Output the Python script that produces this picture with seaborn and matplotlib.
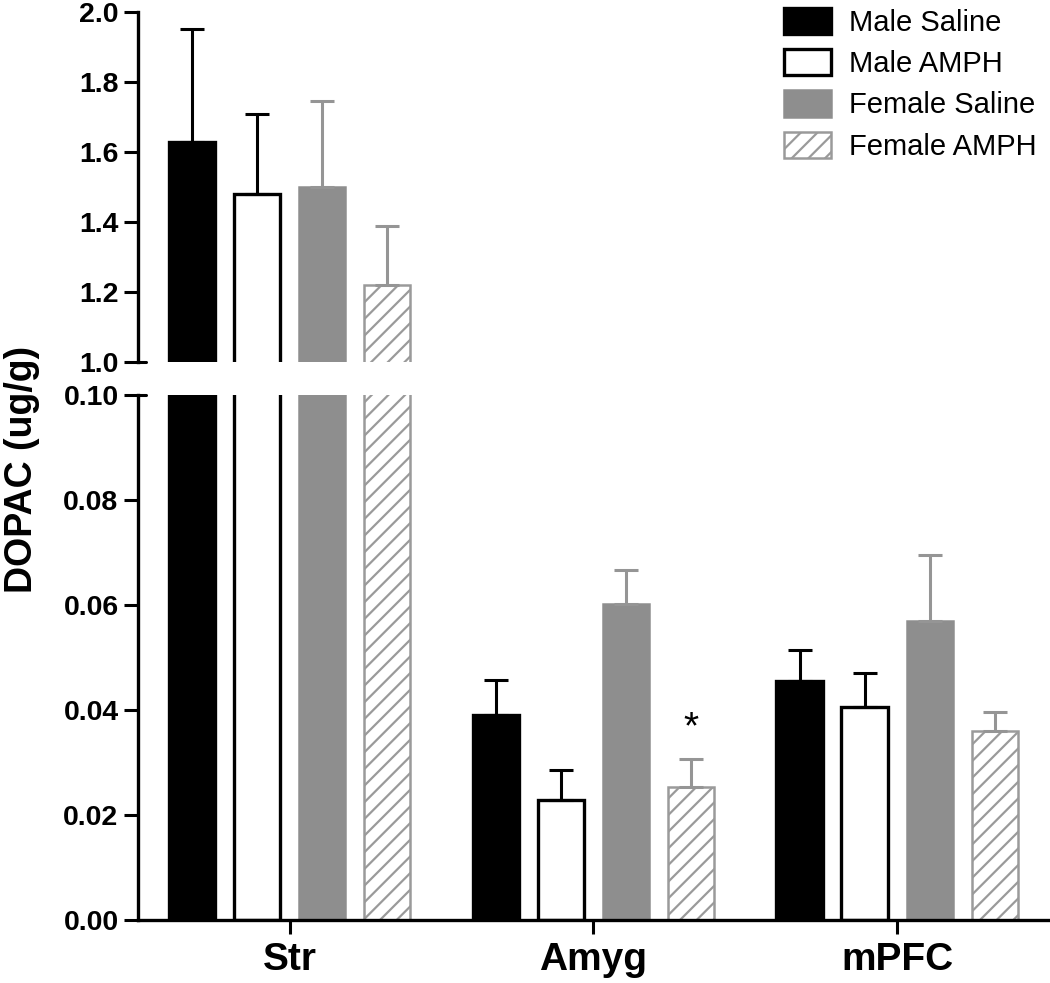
import numpy as np
import pandas as pd
import matplotlib
matplotlib.use('Agg')
import matplotlib.pyplot as plt
import seaborn as sns
from matplotlib.patches import Patch

# data
regions = ['Str', 'Amyg', 'mPFC']
groups = ['Male Saline', 'Male AMPH', 'Female Saline', 'Female AMPH']
means = {
    'Male Saline':   [1.63, 0.0390, 0.0455],
    'Male AMPH':     [1.48, 0.0229, 0.0406],
    'Female Saline': [1.50, 0.0602, 0.0570],
    'Female AMPH':   [1.22, 0.0253, 0.0360],
}
sems = {
    'Male Saline':   [0.32, 0.0068, 0.0059],
    'Male AMPH':     [0.23, 0.0057, 0.0064],
    'Female Saline': [0.245, 0.0065, 0.0125],
    'Female AMPH':   [0.17, 0.0054, 0.0036],
}
star_region = 'Amyg'
star_group = 'Female AMPH'
star_y = 0.0366

faces = ['black', 'white', '#8e8e8e', 'white']
edges = ['black', 'black', '#8e8e8e', '#9a9a9a']
err_cols = ['black', 'black', '#959595', '#959595']
hatches = [None, None, None, '//']

rows = []
for g in groups:
    for r, m in zip(regions, means[g]):
        rows.append({'region': r, 'group': g, 'value': m})
df = pd.DataFrame(rows)

sns.set_style('ticks')
plt.rcParams['font.family'] = ['Liberation Sans', 'DejaVu Sans']
plt.rcParams['hatch.linewidth'] = 1.6
plt.rcParams['axes.linewidth'] = 2.4
for k in ['text.color', 'axes.labelcolor', 'xtick.color', 'ytick.color', 'axes.edgecolor']:
    plt.rcParams[k] = 'black'

fig = plt.figure(figsize=(10.5, 9.83), dpi=100)
ax_top = fig.add_axes([0.1314, 0.6317, 0.8676, 0.3561])
ax_bot = fig.add_axes([0.1314, 0.0641, 0.8676, 0.5340])

for ax in (ax_top, ax_bot):
    sns.barplot(data=df, x='region', y='value', hue='group', order=regions,
                hue_order=groups, errorbar=None, width=0.857, gap=0.29,
                legend=False, ax=ax)
    for i, (cont, g) in enumerate(zip(ax.containers, groups)):
        xs = []
        for bar in cont:
            bar.set_facecolor(faces[i])
            bar.set_edgecolor(edges[i])
            bar.set_linewidth(2.4 if i < 2 else 1.8)
            if hatches[i]:
                bar.set_hatch(hatches[i])
            xs.append(bar.get_x() + bar.get_width() / 2)
        ax.errorbar(xs, means[g], yerr=[np.zeros(len(xs)), sems[g]], fmt='none',
                    ecolor=err_cols[i], elinewidth=2.2, capsize=8.5, capthick=2.2,
                    zorder=1)
    ax.set_xlim(-0.5, 2.5)
    ax.set_xlabel('')
    ax.set_ylabel('')
    for s in ['top', 'right']:
        ax.spines[s].set_visible(False)
    ax.tick_params(axis='both', length=10, width=2.2, pad=4, labelsize=20)

# top panel
ax_top.set_ylim(1.0, 2.0)
ax_top.set_yticks(np.arange(1.0, 2.01, 0.2))
ax_top.set_yticklabels([f'{v:.1f}' for v in np.arange(1.0, 2.01, 0.2)],
                       fontweight='bold', fontsize=20.5)
ax_top.spines['bottom'].set_visible(False)
ax_top.tick_params(axis='x', bottom=False, labelbottom=False)
ax_top.plot([0, 0.009], [0, 0], transform=ax_top.transAxes, color='black',
            lw=2.2, clip_on=False)

# bottom panel
yt = np.arange(0, 0.101, 0.02)
ax_bot.set_ylim(0, 0.10)
ax_bot.set_yticks(yt)
ax_bot.set_yticklabels([f'{v:.2f}' for v in yt], fontweight='bold', fontsize=20.5)
ax_bot.set_xticks(range(len(regions)))
ax_bot.set_xticklabels(regions, fontweight='bold', fontsize=28)
ax_bot.tick_params(axis='x', pad=6)
ax_bot.plot([0, 0.009], [1, 1], transform=ax_bot.transAxes, color='black',
            lw=2.2, clip_on=False)

# significance star
ci = groups.index(star_group)
bar = ax_bot.containers[ci][regions.index(star_region)]
ax_bot.text(bar.get_x() + bar.get_width() / 2, star_y, '*', ha='center',
            va='center', fontsize=28, color='black')

fig.text(0.021, 0.522, 'DOPAC (ug/g)', rotation=90, ha='center', va='center',
         fontsize=27, fontweight='bold')

handles = [Patch(facecolor=faces[i], edgecolor=edges[i], hatch=hatches[i],
                 linewidth=2.4 if i < 2 else 1.8) for i in range(len(groups))]
fig.legend(handles, groups, loc='upper left', bbox_to_anchor=(0.747, 0.992),
           frameon=False, fontsize=21, handlelength=1.6, handleheight=1.0,
           handletextpad=0.6, labelspacing=0.42, borderpad=0, borderaxespad=0)

fig.savefig('out.png', dpi=100)
